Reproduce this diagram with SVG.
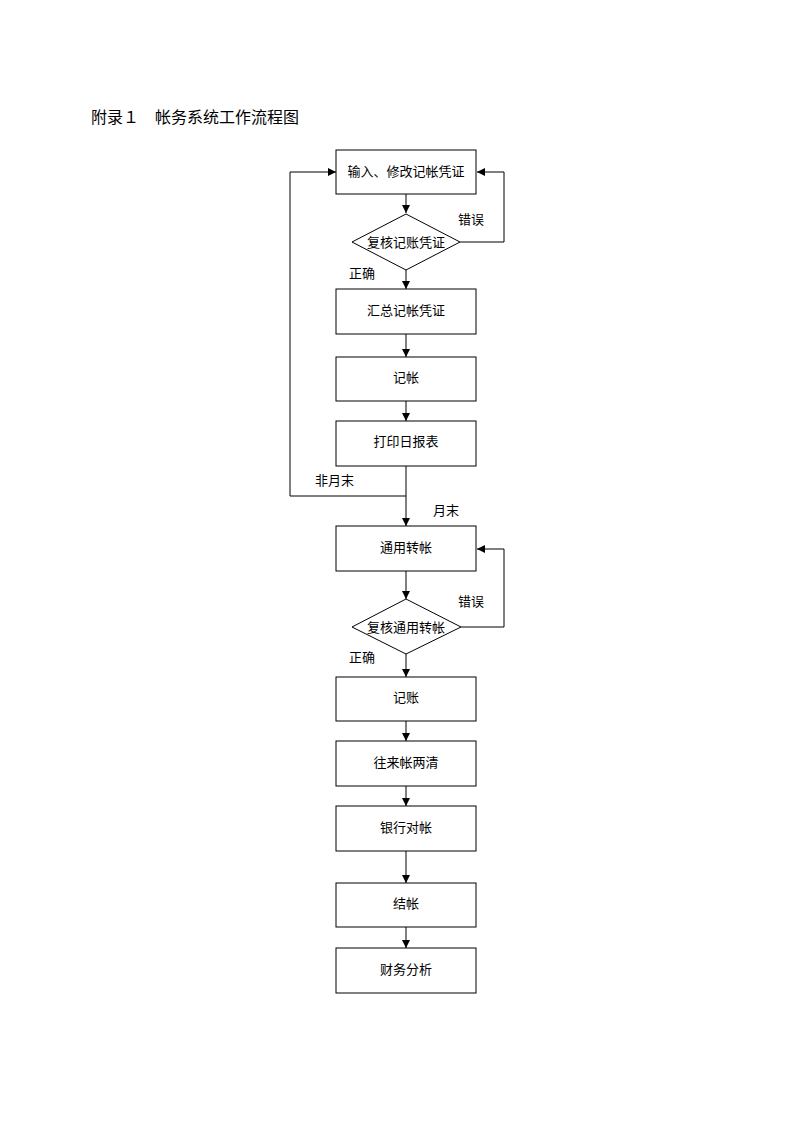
<svg xmlns="http://www.w3.org/2000/svg" width="794" height="1123" viewBox="0 0 794 1123">
<style>
.n{fill:#fff;stroke:#000;stroke-width:1}
.t{font-family:"Noto Sans CJK SC","Liberation Sans",sans-serif;font-size:13px;fill:#000;text-anchor:middle;dominant-baseline:central}
.l{font-family:"Noto Sans CJK SC","Liberation Sans",sans-serif;font-size:13px;fill:#000}
.c{fill:none;stroke:#000;stroke-width:1}
</style>
<defs>
<marker id="a" viewBox="0 0 8 8" refX="8" refY="4" markerWidth="8" markerHeight="8" markerUnits="userSpaceOnUse" orient="auto">
<path d="M0,0 L8,4 L0,8 z" fill="#000"/>
</marker>
</defs>
<rect width="794" height="1123" fill="#fff"/>
<text x="91" y="123" font-family="Noto Sans CJK SC,Liberation Sans,sans-serif" font-size="16" fill="#000" xml:space="preserve">附录１　帐务系统工作流程图</text>
<g id="connectors">
<path class="c" d="M406,194 V213" marker-end="url(#a)"/>
<path class="c" d="M460,242 H504 V172 H477" marker-end="url(#a)"/>
<path class="c" d="M406,270 V289" marker-end="url(#a)"/>
<path class="c" d="M406,334 V357" marker-end="url(#a)"/>
<path class="c" d="M406,401 V421" marker-end="url(#a)"/>
<path class="c" d="M406,466 V526" marker-end="url(#a)"/>
<path class="c" d="M406,496 H290 V172 H336" marker-end="url(#a)"/>
<path class="c" d="M406,571 V599" marker-end="url(#a)"/>
<path class="c" d="M461,627 H504 V549 H477" marker-end="url(#a)"/>
<path class="c" d="M406,654 V677" marker-end="url(#a)"/>
<path class="c" d="M406,721 V741" marker-end="url(#a)"/>
<path class="c" d="M406,786 V806" marker-end="url(#a)"/>
<path class="c" d="M406,851 V883" marker-end="url(#a)"/>
<path class="c" d="M406,927 V948" marker-end="url(#a)"/>
<text class="l" x="458" y="224">错误</text>
<text class="l" x="349" y="278">正确</text>
<text class="l" x="315" y="485">非月末</text>
<text class="l" x="433" y="515">月末</text>
<text class="l" x="458" y="606">错误</text>
<text class="l" x="349" y="662">正确</text>
</g>
<g id="n1"><rect class="n" x="336" y="150" width="140" height="44"/><text class="t" x="406" y="170">输入、修改记帐凭证</text></g>
<g id="n2"><polygon class="n" points="406,214 460,242 406,270 352,242"/><text class="t" x="406" y="241">复核记账凭证</text></g>
<g id="n3"><rect class="n" x="336" y="289" width="140" height="45"/><text class="t" x="406" y="309">汇总记帐凭证</text></g>
<g id="n4"><rect class="n" x="336" y="357" width="140" height="44"/><text class="t" x="406" y="376">记帐</text></g>
<g id="n5"><rect class="n" x="336" y="421" width="140" height="45"/><text class="t" x="406" y="440">打印日报表</text></g>
<g id="n6"><rect class="n" x="336" y="526" width="140" height="45"/><text class="t" x="406" y="546">通用转帐</text></g>
<g id="n7"><polygon class="n" points="406,599 461,627 406,654 352,627"/><text class="t" x="406" y="626">复核通用转帐</text></g>
<g id="n8"><rect class="n" x="336" y="677" width="140" height="44"/><text class="t" x="406" y="696">记账</text></g>
<g id="n9"><rect class="n" x="336" y="741" width="140" height="45"/><text class="t" x="406" y="761">往来帐两清</text></g>
<g id="n10"><rect class="n" x="336" y="806" width="140" height="45"/><text class="t" x="406" y="826">银行对帐</text></g>
<g id="n11"><rect class="n" x="336" y="883" width="140" height="44"/><text class="t" x="406" y="902">结帐</text></g>
<g id="n12"><rect class="n" x="336" y="948" width="140" height="45"/><text class="t" x="406" y="968">财务分析</text></g>
</svg>
